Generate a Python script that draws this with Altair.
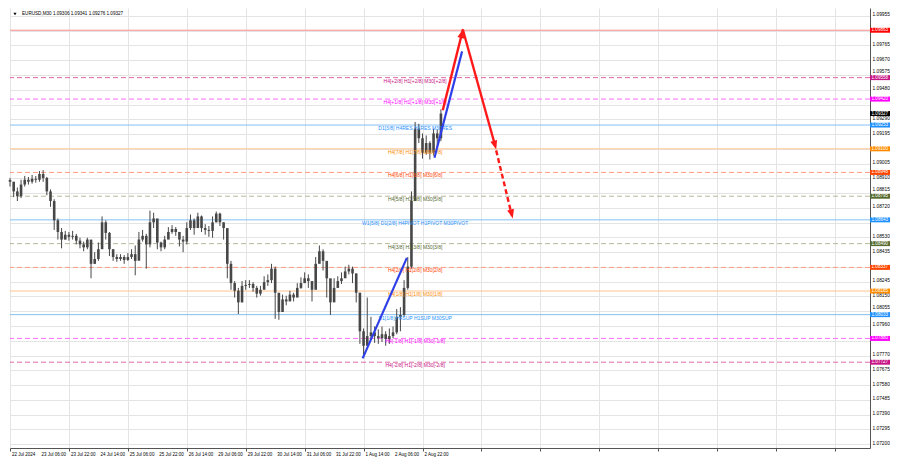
import json
import math
import altair as alt
import pandas as pd

# ---------------- data ----------------
header_text = "EURUSD,M30  1.09306 1.09341 1.09276 1.09327"

# M30 bar index (every 4th bar sampled as one candle)
bar_index = list(range(0, 469, 4))
first_open = 1.08900
close = [1.08888, 1.08826, 1.08795, 1.08870, 1.08901, 1.08888, 1.08907, 1.08901, 1.08938, 1.08913,
         1.08826, 1.08764, 1.08640, 1.08565, 1.08516, 1.08547, 1.08534, 1.08540, 1.08509, 1.08485,
         1.08466, 1.08516, 1.08360, 1.08391, 1.08454, 1.08627, 1.08559, 1.08454, 1.08404, 1.08391,
         1.08404, 1.08385, 1.08404, 1.08422, 1.08379, 1.08516, 1.08540, 1.08485, 1.08627, 1.08652,
         1.08497, 1.08466, 1.08516, 1.08565, 1.08584, 1.08565, 1.08516, 1.08503, 1.08590, 1.08640,
         1.08590, 1.08665, 1.08590, 1.08578, 1.08572, 1.08627, 1.08683, 1.08627, 1.08590, 1.08360,
         1.08236, 1.08187, 1.08112, 1.08218, 1.08224, 1.08230, 1.08205, 1.08168, 1.08193, 1.08242,
         1.08255, 1.08329, 1.08174, 1.08050, 1.08131, 1.08118, 1.08162, 1.08143, 1.08205, 1.08236,
         1.08267, 1.08249, 1.08193, 1.08360, 1.08441, 1.08379, 1.08267, 1.08112, 1.08205, 1.08249,
         1.08267, 1.08311, 1.08329, 1.08298, 1.08174, 1.07926, 1.07833, 1.07895, 1.07919, 1.07895,
         1.07882, 1.07907, 1.07876, 1.07895, 1.07919, 1.08019, 1.08031, 1.08205, 1.08342, 1.08764,
         1.09230, 1.09168, 1.09075, 1.09137, 1.09075, 1.09199, 1.09168, 1.09327]
high = [1.08913, 1.08888, 1.08851, 1.08901, 1.08925, 1.08919, 1.08932, 1.08925, 1.08957, 1.08963,
        1.08919, 1.08839, 1.08776, 1.08652, 1.08590, 1.08572, 1.08565, 1.08572, 1.08553, 1.08528,
        1.08503, 1.08528, 1.08485, 1.08435, 1.08497, 1.08665, 1.08640, 1.08565, 1.08454, 1.08422,
        1.08422, 1.08416, 1.08429, 1.08454, 1.08478, 1.08565, 1.08578, 1.08553, 1.08702, 1.08689,
        1.08627, 1.08503, 1.08540, 1.08596, 1.08609, 1.08596, 1.08565, 1.08540, 1.08627, 1.08677,
        1.08652, 1.08689, 1.08671, 1.08615, 1.08603, 1.08665, 1.08696, 1.08689, 1.08627, 1.08516,
        1.08379, 1.08249, 1.08205, 1.08249, 1.08255, 1.08255, 1.08242, 1.08218, 1.08218, 1.08280,
        1.08292, 1.08360, 1.08342, 1.08143, 1.08162, 1.08155, 1.08187, 1.08174, 1.08236, 1.08273,
        1.08305, 1.08292, 1.08249, 1.08404, 1.08478, 1.08454, 1.08367, 1.08236, 1.08267, 1.08280,
        1.08305, 1.08342, 1.08354, 1.08342, 1.08298, 1.08174, 1.07944, 1.08143, 1.08019, 1.07957,
        1.07938, 1.07957, 1.07926, 1.07944, 1.07957, 1.08069, 1.08081, 1.08255, 1.08404, 1.08826,
        1.09273, 1.09261, 1.09199, 1.09186, 1.09149, 1.09230, 1.09224, 1.09354]
low = [1.08857, 1.08789, 1.08764, 1.08783, 1.08857, 1.08870, 1.08876, 1.08882, 1.08888, 1.08888,
       1.08801, 1.08727, 1.08578, 1.08516, 1.08460, 1.08516, 1.08509, 1.08516, 1.08485, 1.08460,
       1.08441, 1.08454, 1.08267, 1.08360, 1.08379, 1.08516, 1.08516, 1.08410, 1.08379, 1.08373,
       1.08379, 1.08360, 1.08379, 1.08391, 1.08286, 1.08422, 1.08503, 1.08329, 1.08466, 1.08590,
       1.08454, 1.08441, 1.08454, 1.08528, 1.08553, 1.08540, 1.08472, 1.08435, 1.08485, 1.08578,
       1.08547, 1.08603, 1.08565, 1.08547, 1.08534, 1.08528, 1.08627, 1.08603, 1.08516, 1.08267,
       1.08193, 1.08143, 1.08037, 1.08112, 1.08193, 1.08205, 1.08180, 1.08143, 1.08155, 1.08205,
       1.08218, 1.08236, 1.08006, 1.08000, 1.08081, 1.08093, 1.08131, 1.08118, 1.08155, 1.08199,
       1.08236, 1.08205, 1.08118, 1.08205, 1.08379, 1.08317, 1.08143, 1.08031, 1.08143, 1.08205,
       1.08230, 1.08280, 1.08292, 1.08236, 1.08112, 1.07845, 1.07770, 1.07833, 1.07870, 1.07851,
       1.07845, 1.07857, 1.07833, 1.07845, 1.07882, 1.07907, 1.07926, 1.08019, 1.08193, 1.08329,
       1.08764, 1.09137, 1.09037, 1.09062, 1.09031, 1.09056, 1.09106, 1.09149]

time_labels = ["22 Jul 2024", "23 Jul 06:00", "23 Jul 22:00", "24 Jul 14:00", "25 Jul 06:00",
               "25 Jul 22:00", "26 Jul 14:00", "29 Jul 06:00", "29 Jul 22:00", "30 Jul 14:00",
               "31 Jul 06:00", "31 Jul 22:00", "1 Aug 14:00", "2 Aug 06:00", "2 Aug 22:00"]
label_ticks = list(range(0, 449, 32))
time_ticks = list(range(0, 929, 32))

price_ticks = [1.07200, 1.07295, 1.07390, 1.07485, 1.07580, 1.07675, 1.07770, 1.07865, 1.07960,
               1.08055, 1.08150, 1.08245, 1.08340, 1.08435, 1.08530, 1.08625, 1.08720, 1.08815,
               1.08910, 1.09005, 1.09100, 1.09195, 1.09290, 1.09385, 1.09480, 1.09575, 1.09670,
               1.09765, 1.09860, 1.09955]
hidden_ticks = ["1.09860", "1.09385", "1.09100", "1.08625", "1.08340", "1.07865"]
raised_ticks = ["1.09575", "1.08815", "1.08055"]

level_prices = [1.09863, 1.09558, 1.09420, 1.09253, 1.09100, 1.08948, 1.08795,
                1.08643, 1.08490, 1.08337, 1.08185, 1.08033, 1.07880, 1.07727]
level_texts = ["", "H4[+2/8] H1[+2/8] M30[+2/8]", "H4[+1/8] H1[+1/8] M30[+1/8]",
               "D1[3/8] H4RES H1RES M30RES", "H4[7/8] H1[7/8] M30[7/8]",
               "H4[6/8] H1[6/8] M30[6/8]", "H4[5/8] H1[5/8] M30[5/8]",
               "W1[5/8] D1[2/8] H4PIVOT H1PIVOT M30PIVOT", "H4[3/8] H1[3/8] M30[3/8]",
               "H4[2/8] H1[2/8] M30[2/8]", "H4[1/8] H1[1/8] M30[1/8]",
               "D1[1/8] H4SUP H1SUP M30SUP", "H4[-1/8] H1[-1/8] M30[-1/8]",
               "H4[-2/8] H1[-2/8] M30[-2/8]"]
current_price = 1.09327

# projection segments (bar, price)
blue_x1 = [383, 461]
blue_x2 = [431, 491]
blue_p1 = [1.07752, 1.09043]
blue_p2 = [1.08398, 1.09727]
red_x1 = [470, 492]
red_x2 = [492, 527]
red_p1 = [1.09348, 1.09863]
red_p2 = [1.09870, 1.09118]
redd_x1 = [528]
redd_x2 = [545]
redd_p1 = [1.09090]
redd_p2 = [1.08672]
head_from_x = [470, 492, 528]
head_from_p = [1.09348, 1.09863, 1.09090]
head_x = [492, 528, 546]
head_p = [1.09870, 1.09095, 1.08652]

# ---------------- styles ----------------
W, H = 860, 440
X_MAX = 934
Y_MIN, Y_MAX = 1.07175, 1.10006
RED = "#ff1a1a"
BLUE = "#2f3fe8"
CANDLE = "#474747"
FONT = "Liberation Sans"

line_colors = ["#ff8a8a", "#e06aa8", "#ff6bff", "#86bff2", "#ffc48e", "#ff9c84", "#b8b89c",
               "#86bff2", "#b8b89c", "#ff9c84", "#ffc48e", "#86bff2", "#ff6bff", "#e06aa8"]
tag_colors = ["#ff0000", "#c71585", "#ff00ff", "#1e90ff", "#ff8c00", "#ff4500", "#556b2f",
              "#1e90ff", "#556b2f", "#ff4500", "#ff8c00", "#1e90ff", "#ff00ff", "#c71585"]
dash_kind = ["solid", "dash", "dash", "solid", "solid", "dash", "dash",
             "solid", "dash", "dash", "solid", "solid", "dash", "dash"]

xs = alt.Scale(domain=[0, X_MAX], nice=False, zero=False, padding=0)
ys = alt.Scale(domain=[Y_MIN, Y_MAX], nice=False, zero=False, padding=0)

y_label_expr = ("indexof(" + json.dumps(hidden_ticks) + ", format(datum.value, '.5f')) >= 0 ? '' : "
                "format(datum.value, '.5f')")
raise_test = "indexof(" + json.dumps(raised_ticks) + ", format(datum.value, '.5f')) >= 0"

x_axis = alt.Axis(values=time_ticks, labels=False, tickSize=3, grid=True, title=None)
y_axis = alt.Axis(orient="right", values=price_ticks, labelExpr=y_label_expr, ticks=False,
                  labelPadding=2, grid=True, title=None, labelOverlap=False, labelFlush=False,
                  labelBaseline="middle",
                  labelOffset={"condition": {"test": raise_test, "value": -3.5}, "value": -1})


def X(field):
    return alt.X(field, type="quantitative", scale=xs, axis=x_axis)


def Y(field):
    return alt.Y(field, type="quantitative", scale=ys, axis=y_axis)


# ---------------- tables ----------------
candles = pd.DataFrame({"bar": bar_index, "close": close, "high": high, "low": low})
candles["open"] = candles["close"].shift(1).fillna(first_open)

levels = pd.DataFrame({"p": level_prices, "text": level_texts, "lc": line_colors,
                       "tc": tag_colors, "dash": dash_kind})

tags = pd.DataFrame({"p": level_prices + [current_price],
                     "tc": tag_colors + ["#000000"]})
tags["label"] = tags["p"].map(lambda v: f"{v:.5f}")

times = pd.DataFrame({"bar": label_ticks, "label": time_labels})

blue = pd.DataFrame({"x1": blue_x1, "x2": blue_x2, "p1": blue_p1, "p2": blue_p2})
red = pd.DataFrame({"x1": red_x1, "x2": red_x2, "p1": red_p1, "p2": red_p2})
redd = pd.DataFrame({"x1": redd_x1, "x2": redd_x2, "p1": redd_p1, "p2": redd_p2})

kx = W / X_MAX
ky = H / (Y_MAX - Y_MIN)
angles = []
for fx, fp, tx, tp in zip(head_from_x, head_from_p, head_x, head_p):
    a = math.degrees(math.atan2((tx - fx) * kx, (tp - fp) * ky))
    angles.append(a % 360)
heads = pd.DataFrame({"x": head_x, "p": head_p, "ang": angles})

one = pd.DataFrame({"t": [header_text]})

# ---------------- layers ----------------
level_rules = alt.Chart(levels).mark_rule(strokeWidth=1).encode(
    y=Y("p"),
    color=alt.Color("lc:N", scale=None),
    strokeDash=alt.StrokeDash("dash:N", scale=alt.Scale(domain=["solid", "dash"],
                                                         range=[[1, 0], [5, 3]]), legend=None),
)

wicks = alt.Chart(candles).mark_rule(color=CANDLE, strokeWidth=1).encode(
    x=X("bar"), y=Y("low"), y2="high:Q")
bodies = alt.Chart(candles).mark_bar(size=2.6, color=CANDLE).encode(
    x=X("bar"), y=Y("open"), y2="close:Q")

level_labels = alt.Chart(levels).transform_filter("datum.text != ''").mark_text(
    font=FONT, fontSize=5, baseline="middle", align="center", dy=3).encode(
    x=alt.datum(440), y=Y("p"), text="text:N", color=alt.Color("tc:N", scale=None))

time_texts = alt.Chart(times).mark_text(
    font=FONT, fontSize=4.5, baseline="top", align="left", dx=2, color="#000000").encode(
    x=X("bar"), y=alt.value(H + 4), text="label:N")

blue_lines = alt.Chart(blue).mark_rule(color=BLUE, strokeWidth=2.2).encode(
    x=X("x1"), x2="x2:Q", y=Y("p1"), y2="p2:Q")
red_lines = alt.Chart(red).mark_rule(color=RED, strokeWidth=2.4).encode(
    x=X("x1"), x2="x2:Q", y=Y("p1"), y2="p2:Q")
red_dashed = alt.Chart(redd).mark_rule(color=RED, strokeWidth=2.4, strokeDash=[5, 3]).encode(
    x=X("x1"), x2="x2:Q", y=Y("p1"), y2="p2:Q")
arrow_heads = alt.Chart(heads).mark_point(
    shape="M0,0L1,2.6L-1,2.6Z", filled=True, size=49, color=RED, opacity=1, strokeWidth=0).encode(
    x=X("x"), y=Y("p"), angle=alt.Angle("ang:Q", scale=None))

tag_rects = alt.Chart(tags).transform_calculate(
    lo="datum.p - 0.00016", hi="datum.p + 0.00016").mark_rect().encode(
    x=alt.value(W), x2=alt.value(W + 20), y=Y("lo:Q"), y2="hi:Q",
    color=alt.Color("tc:N", scale=None))
tag_texts = alt.Chart(tags).mark_text(
    font=FONT, fontSize=4.6, align="left", baseline="middle", color="white").encode(
    x=alt.value(W + 1.5), y=Y("p"), text="label:N")

header = alt.Chart(one).mark_text(
    font=FONT, fontSize=4.6, align="left", baseline="middle", color="black").encode(
    x=alt.value(12), y=alt.value(6), text="t:N")
header_icon = alt.Chart(one).mark_point(
    shape="triangle-down", filled=True, size=10, color="black", opacity=1).encode(
    x=alt.value(5), y=alt.value(6))

chart = alt.layer(
    level_rules, wicks, bodies, level_labels, time_texts, blue_lines, red_lines, red_dashed,
    arrow_heads, tag_rects, tag_texts, header, header_icon
).properties(
    width=W, height=H, background="white",
    padding={"left": 0, "top": 0, "right": 0, "bottom": 0},
).configure_view(stroke=None).configure_axis(
    labelFont=FONT, labelFontSize=4.8, labelColor="#000000", gridColor="#e4e4e4",
    gridWidth=1, domainColor="#555555", tickColor="#555555", domainWidth=1,
)

chart.save("out.html", embed_options={"renderer": "svg", "actions": False})
